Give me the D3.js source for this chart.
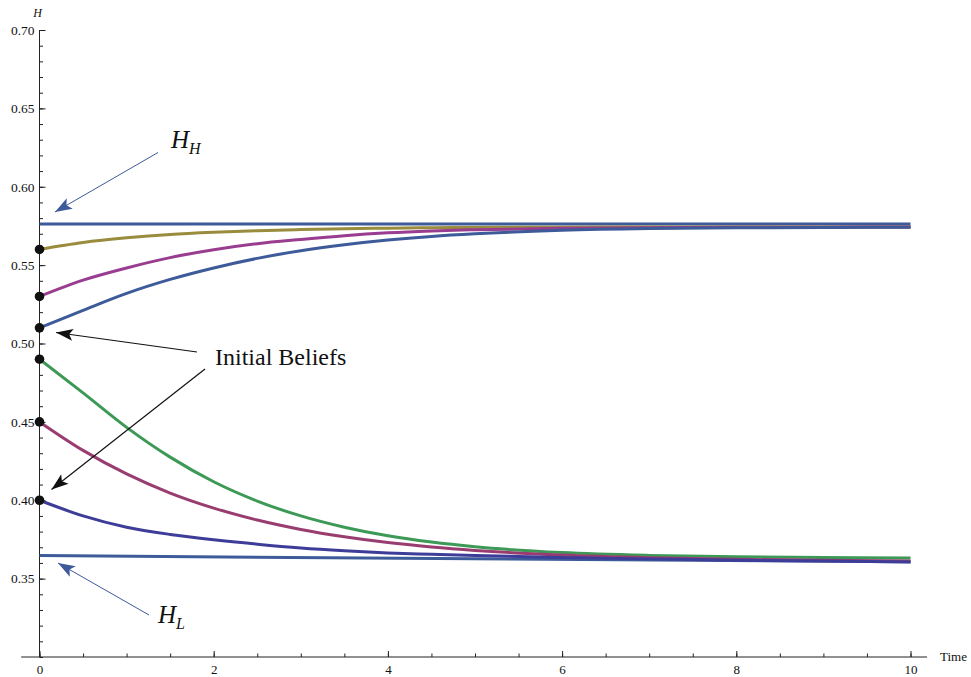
<!DOCTYPE html>
<html>
<head>
<meta charset="utf-8">
<script src="https://cdn.jsdelivr.net/npm/d3@7"></script>
<style>
  html, body { margin: 0; padding: 0; background: #fff; }
  svg { display: block; }
  text { font-family: "Liberation Serif", "DejaVu Serif", serif; fill: #111; }
</style>
</head>
<body>
<svg id="chart" width="971" height="677"></svg>
<script>
// ---- data ----
const times = [0, 0.5, 1, 1.5, 2, 2.5, 3, 3.5, 4, 4.5, 5, 6, 7, 8, 9, 10];
const gold    = [0.5600, 0.5644, 0.5674, 0.5696, 0.5710, 0.5720, 0.5727, 0.5732, 0.5736, 0.5739, 0.5740, 0.5742, 0.5743, 0.5743, 0.5744, 0.5744];
const violet  = [0.5300, 0.5404, 0.5482, 0.5548, 0.5598, 0.5637, 0.5664, 0.5688, 0.5706, 0.5718, 0.5726, 0.5735, 0.5739, 0.5741, 0.5742, 0.5743];
const blueUp  = [0.5100, 0.5212, 0.5320, 0.5409, 0.5482, 0.5543, 0.5592, 0.5630, 0.5660, 0.5683, 0.5700, 0.5722, 0.5733, 0.5738, 0.5740, 0.5742];
const green   = [0.4900, 0.4685, 0.4465, 0.4275, 0.4118, 0.3995, 0.3900, 0.3828, 0.3773, 0.3733, 0.3703, 0.3666, 0.3648, 0.3639, 0.3634, 0.3631];
const plum    = [0.4500, 0.4318, 0.4168, 0.4046, 0.3950, 0.3874, 0.3814, 0.3767, 0.3730, 0.3702, 0.3680, 0.3650, 0.3633, 0.3623, 0.3617, 0.3613];
const indigo  = [0.4000, 0.3900, 0.3828, 0.3782, 0.3748, 0.3720, 0.3696, 0.3678, 0.3664, 0.3655, 0.3647, 0.3635, 0.3626, 0.3618, 0.3612, 0.3606];
const hhTimes = [0, 10];
const hhValues = [0.5763, 0.5763];
const hlValues = [0.3647, 0.3607];
const initialBeliefs = [0.56, 0.53, 0.51, 0.49, 0.45, 0.40];
const xMajorTicks = [0, 2, 4, 6, 8, 10];
const yMajorTicks = [0.35, 0.40, 0.45, 0.50, 0.55, 0.60, 0.65, 0.70];

const svg = d3.select("#chart");
const x = d3.scaleLinear().domain([0, 10]).range([39.5, 910.5]);
const y = d3.scaleLinear().domain([0.30, 0.70]).range([657, 30]);

// ---- axes ----
const xMinor = d3.range(0, 10.001, 0.5);
const yMinor = d3.range(30, 70.001, 1).map(v => v / 100);

const gx = svg.append("g").attr("transform", `translate(0,${y(0.30)})`);
gx.append("line").attr("x1", x(-0.21)).attr("x2", x(10.19)).attr("stroke", "#222").attr("stroke-width", 1);
gx.append("g").call(d3.axisBottom(x).tickValues(xMinor).tickSizeInner(-3.5).tickSizeOuter(0).tickFormat(""))
  .call(g => g.select(".domain").remove())
  .call(g => g.selectAll("line").attr("stroke", "#222"));
gx.append("g").call(d3.axisBottom(x).tickValues(xMajorTicks).tickSizeInner(-6).tickSizeOuter(0).tickPadding(8).tickFormat(d3.format("d")))
  .call(g => g.select(".domain").remove())
  .call(g => g.selectAll("line").attr("stroke", "#222"))
  .call(g => g.selectAll("text").style("font-family", "Liberation Serif").style("font-size", "13px").attr("fill", "#111"));

const gy = svg.append("g").attr("transform", `translate(${x(0)},0)`);
gy.append("line").attr("y1", y(0.30)).attr("y2", y(0.70)).attr("stroke", "#222").attr("stroke-width", 1);
gy.append("g").call(d3.axisLeft(y).tickValues(yMinor).tickSizeInner(-3.5).tickSizeOuter(0).tickFormat(""))
  .call(g => g.select(".domain").remove())
  .call(g => g.selectAll("line").attr("stroke", "#222"));
gy.append("g").call(d3.axisLeft(y).tickValues(yMajorTicks).tickSizeInner(-6).tickSizeOuter(0).tickPadding(5).tickFormat(d3.format(".2f")))
  .call(g => g.select(".domain").remove())
  .call(g => g.selectAll("line").attr("stroke", "#222"))
  .call(g => g.selectAll("text").style("font-family", "Liberation Serif").style("font-size", "13.5px").attr("fill", "#111"));

svg.append("text").attr("x", x(0) - 2).attr("y", 17).attr("text-anchor", "middle")
  .style("font-size", "12px").style("font-style", "italic").text("H");
svg.append("text").attr("x", 940).attr("y", 661)
  .style("font-size", "13px").text("Time");

// ---- lines ----
const line = d3.line().x(d => x(d[0])).y(d => y(d[1])).curve(d3.curveMonotoneX);
const seriesList = [
  { vals: hhValues, t: hhTimes, color: "#3d5a99" },
  { vals: hlValues, t: hhTimes, color: "#3d5a99" },
  { vals: gold, t: times, color: "#998c3d" },
  { vals: violet, t: times, color: "#993d90" },
  { vals: blueUp, t: times, color: "#3d5a99" },
  { vals: green, t: times, color: "#3d9956" },
  { vals: plum, t: times, color: "#993d71" },
  { vals: indigo, t: times, color: "#3d3d99" }
];
svg.append("g").selectAll("path").data(seriesList).join("path")
  .attr("d", s => line(s.t.map((t, i) => [t, s.vals[i]])))
  .attr("fill", "none").attr("stroke", s => s.color).attr("stroke-width", 3)
  .attr("stroke-linecap", "butt");

// ---- initial belief dots ----
svg.append("g").selectAll("circle").data(initialBeliefs).join("circle")
  .attr("cx", x(0)).attr("cy", d => y(d)).attr("r", 4.8).attr("fill", "#111");

// ---- annotations ----
const defs = svg.append("defs");
function marker(id, color, len, half) {
  defs.append("marker").attr("id", id).attr("markerUnits", "userSpaceOnUse")
    .attr("viewBox", `${-len - 1} ${-half - 1} ${len + 2} ${2 * half + 2}`)
    .attr("markerWidth", len + 2).attr("markerHeight", 2 * half + 2)
    .attr("refX", 0).attr("refY", 0).attr("orient", "auto")
    .append("path").attr("d", `M0,0 L${-len},${-half} L${-len * 0.78},0 L${-len},${half} Z`).attr("fill", color);
}
marker("arrBlue", "#3d5a99", 17, 6);
marker("arrBlack", "#111", 17, 6);

const arrows = [
  { x1: 158, y1: 152.5, x2: 55, y2: 212, color: "#3d5a99", w: 1, m: "arrBlue" },
  { x1: 149, y1: 615, x2: 58, y2: 563, color: "#3d5a99", w: 1, m: "arrBlue" },
  { x1: 197, y1: 352, x2: 56, y2: 332.5, color: "#111", w: 1.2, m: "arrBlack" },
  { x1: 205, y1: 369, x2: 51.5, y2: 489.5, color: "#111", w: 1.2, m: "arrBlack" }
];
svg.append("g").selectAll("line").data(arrows).join("line")
  .attr("x1", d => d.x1).attr("y1", d => d.y1).attr("x2", d => d.x2).attr("y2", d => d.y2)
  .attr("stroke", d => d.color).attr("stroke-width", d => d.w)
  .attr("marker-end", d => `url(#${d.m})`);

svg.append("text").attr("x", 215).attr("y", 365).style("font-size", "24px").text("Initial Beliefs");

const hh = svg.append("text").attr("x", 171).attr("y", 148).style("font-size", "25px").style("font-style", "italic");
hh.append("tspan").text("H");
hh.append("tspan").attr("dy", 6).style("font-size", "16px").text("H");

const hl = svg.append("text").attr("x", 158).attr("y", 623).style("font-size", "25px").style("font-style", "italic");
hl.append("tspan").text("H");
hl.append("tspan").attr("dy", 6).style("font-size", "16px").text("L");
</script>
</body>
</html>
